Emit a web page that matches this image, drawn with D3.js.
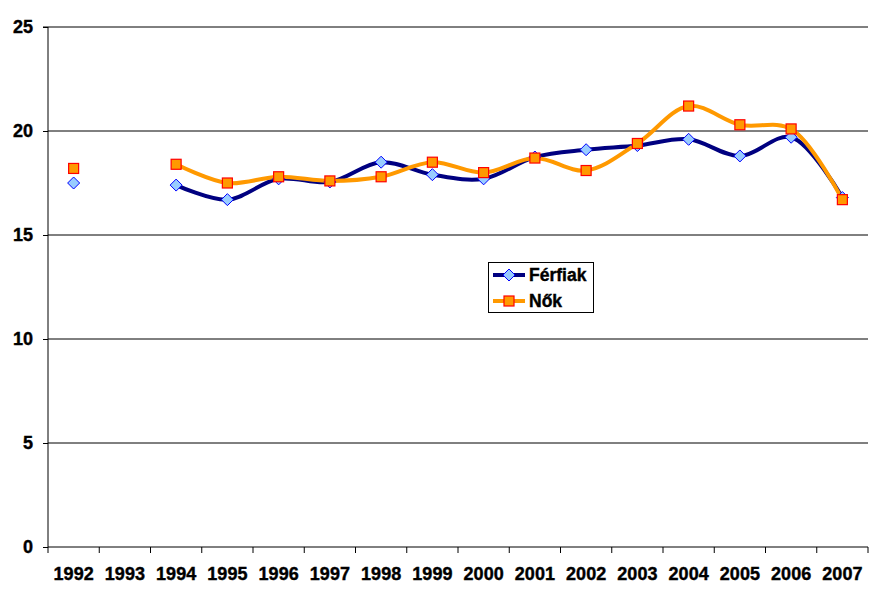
<!DOCTYPE html>
<html><head><meta charset="utf-8">
<script src="https://cdn.jsdelivr.net/npm/d3@7"></script>
<style>body{margin:0;background:#fff}svg{display:block}text{font-family:"Liberation Sans",Arial,sans-serif;font-weight:bold}</style>
</head><body>
<svg id="c" width="882" height="605"></svg>
<script>
const years = ["1992","1993","1994","1995","1996","1997","1998","1999","2000","2001","2002","2003","2004","2005","2006","2007"];
const ferfiak = [17.5,null,17.4,16.7,17.7,17.55,18.5,17.9,17.7,18.75,19.1,19.3,19.6,18.8,19.7,16.8];
const nok = [18.2,null,18.4,17.5,17.8,17.6,17.8,18.5,18.0,18.7,18.1,19.4,21.2,20.3,20.1,16.7];
const yTicks = [0,5,10,15,20,25];

const svg = d3.select("#c");
const L=48, R=868, T=27, B=547;
const x = d3.scaleBand().domain(years).range([L,R]);
const y = d3.scaleLinear().domain([0,25]).range([B,T]);
const cx = d => x(d) + x.bandwidth()/2;
const styleText = sel => sel.attr("font-size",18).attr("fill","#000")
  .attr("stroke","#000").attr("stroke-width",0.4)
  .style("font-family",'"Liberation Sans",Arial,sans-serif').style("font-weight","bold");

// gridlines
svg.append("g").selectAll("line").data(yTicks.filter(t=>t>0)).join("line")
  .attr("x1",L).attr("x2",R).attr("y1",d=>y(d)).attr("y2",d=>y(d))
  .attr("stroke","#000").attr("stroke-width",1);

// y axis
const ya = svg.append("g").attr("transform",`translate(${L},0)`)
  .call(d3.axisLeft(y).tickValues(yTicks).tickSize(5).tickPadding(10));
styleText(ya.selectAll("text"));
ya.selectAll("line,path").attr("stroke","#000");
ya.select(".domain").attr("d",`M-5,${T}H0V${B}`);

// x axis
const xa = svg.append("g").attr("transform",`translate(0,${B})`)
  .call(d3.axisBottom(x).tickSize(0).tickPadding(20));
styleText(xa.selectAll("text"));
xa.select(".domain").attr("d",`M${L},0H${R}`).attr("stroke","#000");
const bounds = years.map(d=>x(d)).concat([R]);
svg.append("g").selectAll("line").data(bounds).join("line")
  .attr("x1",d=>d).attr("x2",d=>d).attr("y1",B).attr("y2",B+6).attr("stroke","#000");

const series = [
  {name:"Férfiak", vals:ferfiak, line:"#000080", shape:"diamond"},
  {name:"Nők", vals:nok, line:"#FF9900", shape:"square"}
];
const line = d3.line().defined(d=>d.v!=null).x(d=>cx(d.k)).y(d=>y(d.v)).curve(d3.curveCatmullRom.alpha(0.5));

function marker(g, shape, px, py){
  if(shape==="diamond"){
    g.append("path").attr("d",`M${px},${py-6}L${px+6},${py}L${px},${py+6}L${px-6},${py}Z`)
      .attr("fill","#99CCFF").attr("stroke","#0000FF").attr("stroke-width",1);
  } else {
    g.append("rect").attr("x",px-5).attr("y",py-5).attr("width",10).attr("height",10)
      .attr("fill","#FF9900").attr("stroke","#FF0000").attr("stroke-width",1.2);
  }
}

series.forEach(s=>{
  const data = years.map((k,i)=>({k, v:s.vals[i]}));
  svg.append("path").datum(data).attr("d",line).attr("fill","none")
    .attr("stroke",s.line).attr("stroke-width",4).attr("stroke-linejoin","round");
});
series.forEach(s=>{
  const g = svg.append("g");
  years.forEach((k,i)=>{ if(s.vals[i]!=null) marker(g, s.shape, cx(k), y(s.vals[i])); });
});

// legend
const lg = svg.append("g");
lg.append("rect").attr("x",488.5).attr("y",262.5).attr("width",105).attr("height",50)
  .attr("fill","#fff").attr("stroke","#000").attr("stroke-width",1);
series.forEach((s,i)=>{
  const ly = 275 + i*26;
  lg.append("line").attr("x1",493).attr("x2",525).attr("y1",ly).attr("y2",ly)
    .attr("stroke",s.line).attr("stroke-width",4);
  marker(lg, s.shape, 509, ly);
  styleText(lg.append("text").attr("x",529).attr("y",ly+6).text(s.name)).attr("font-size",17.5);
});
</script>
</body></html>
